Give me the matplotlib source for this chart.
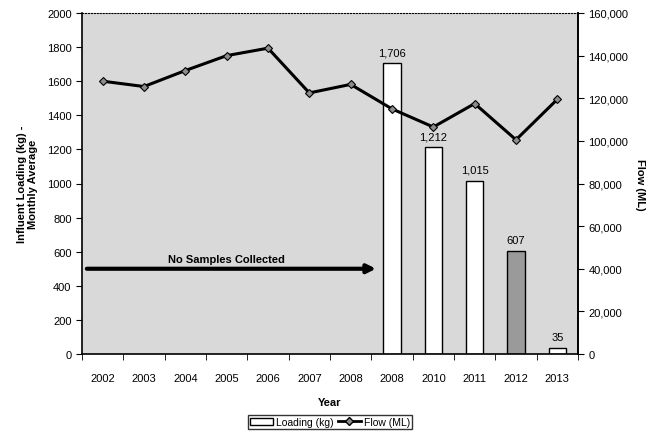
import matplotlib
matplotlib.use("Agg")
import matplotlib.pyplot as plt
import numpy as np
from matplotlib.ticker import FuncFormatter
from matplotlib.patches import Patch
from matplotlib.lines import Line2D

plt.rcParams['font.family'] = ['Liberation Sans', 'DejaVu Sans']

years = ["2002", "2003", "2004", "2005", "2006", "2007", "2008",
         "2008", "2010", "2011", "2012", "2013"]
loading = [None, None, None, None, None, None, None, 1706, 1212, 1015, 607, 35]
loading_labels = ["", "", "", "", "", "", "", "1,706", "1,212", "1,015", "607", "35"]
flow = [128000, 125500, 133000, 140000, 143500, 122500, 126500,
        115000, 106500, 117500, 100500, 119500]
bar_colors = ["white"] * 10 + ["#9a9a9a", "white"]

fig = plt.figure(figsize=(6.52, 4.39), dpi=100)
ax = fig.add_axes([82/652, 1-355/439, 496/652, 341/439])
ax.set_facecolor("#d9d9d9")

x = np.arange(len(years))
for i, (v, c, lab) in enumerate(zip(loading, bar_colors, loading_labels)):
    if v is None:
        continue
    ax.bar(x[i], v, width=0.42, color=c, edgecolor="black", linewidth=1.0, zorder=2)
    ax.text(x[i], v + 35, lab, ha="center", va="bottom", fontsize=8, zorder=4)

ax.set_xlim(-0.5, len(years) - 0.5)
ax.set_ylim(0, 2000)
ax.set_yticks(np.arange(0, 2001, 200))
ax.set_xticks(x)
ax.set_xticklabels(years, fontsize=8)
ax.set_xticks(np.arange(-0.5, len(years), 1), minor=True)
ax.tick_params(axis="x", which="major", length=0, pad=14)
ax.tick_params(axis="x", which="minor", length=4, direction="out")
ax.tick_params(axis="y", labelsize=8, length=4, direction="out")

ax.spines["top"].set_linestyle(":")
ax.spines["top"].set_linewidth(0.8)
ax.spines["left"].set_linewidth(1.2)
ax.spines["bottom"].set_linewidth(1.2)
ax.spines["right"].set_linewidth(1.2)

ax.set_xlabel("Year", fontsize=8, fontweight="bold", labelpad=10)
ax.set_ylabel("Influent Loading (kg) -\nMonthly Average", fontsize=8,
              fontweight="bold", labelpad=6)

ax.annotate("", xy=(7.0 - 0.32, 500), xytext=(-0.45, 500),
            arrowprops=dict(arrowstyle="-|>,head_length=0.5,head_width=0.25",
                            lw=3, color="black"), zorder=3)
ax.text(3.0, 530, "No Samples Collected", ha="center", va="bottom",
        fontsize=8, fontweight="bold", zorder=4)

ax2 = ax.twinx()
ax2.plot(x, flow, color="black", linewidth=2.2, marker="D", markersize=4.5,
         markerfacecolor="#8c8c8c", markeredgecolor="black", markeredgewidth=0.8,
         zorder=5)
ax2.set_ylim(0, 160000)
ax2.set_yticks(np.arange(0, 160001, 20000))
ax2.yaxis.set_major_formatter(FuncFormatter(lambda v, p: f"{int(v):,}"))
ax2.tick_params(axis="y", labelsize=8, length=4, direction="out")
ax2.set_ylabel("Flow (ML)", fontsize=8, fontweight="bold", rotation=-90, labelpad=12)
for s in ["top", "left", "bottom"]:
    ax2.spines[s].set_visible(False)
ax2.spines["right"].set_linewidth(1.2)

handles = [Patch(facecolor="white", edgecolor="black", label="Loading (kg)"),
           Line2D([0], [0], color="black", lw=2, marker="D", markersize=4,
                  markerfacecolor="#8c8c8c", markeredgecolor="black", label="Flow (ML)")]
leg = fig.legend(handles=handles, loc="center", bbox_to_anchor=(330/652, 1-423/439),
                 ncol=2, fontsize=7.5, frameon=True, fancybox=False,
                 handlelength=2.2, handletextpad=0.3, columnspacing=0.4,
                 borderpad=0.2, edgecolor="black")
leg.get_frame().set_linewidth(1.0)

fig.savefig("out.png", dpi=100, facecolor="white")
